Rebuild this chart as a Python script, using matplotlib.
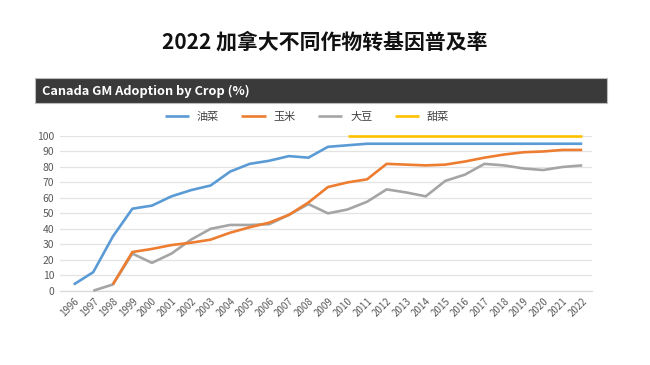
import matplotlib
matplotlib.use("Agg")
import matplotlib.pyplot as plt
from matplotlib.patches import Rectangle
import numpy as np

plt.rcParams['font.family'] = ['Noto Sans CJK SC', 'DejaVu Sans']

years = [str(y) for y in range(1996, 2023)]
canola = [4, 12, 35, 53, 55, 61, 65, 68, 77, 82, 84, 87, 86, 93, 94, 95,
          95, 95, 95, 95, 95, 95, 95, 95, 95, 95, 95]
corn = [None, None, 4, 25, 27, 29.5, 31, 33, 37.5, 41, 44, 49, 57, 67, 70, 72,
        82, 81.5, 81, 81.5, 83.5, 86, 88, 89.5, 90, 91, 91]
soy = [None, 0, 4, 24, 18, 24, 33, 40, 42.5, 42.5, 43, 49, 56, 50, 52.5, 57.5,
       65.5, 63.5, 61, 71, 75, 82, 81, 79, 78, 80, 81]
beet = [None] * 14 + [100] * 13
names = ['油菜', '玉米', '大豆', '甜菜']
colors = ['#5B9BD5', '#ED7D31', '#A5A5A5', '#FFC000']

def arr(v):
    return np.array([np.nan if x is None else x for x in v], dtype=float)

fig = plt.figure(figsize=(6.5, 3.65), dpi=100)
fig.patch.set_facecolor('white')

fig.text(0.5, 0.885, '2022 加拿大不同作物转基因普及率', ha='center', va='center',
         fontsize=15, fontweight='bold', color='#111111')

# header bar
fig.patches.append(Rectangle((35 / 650, 1 - 103 / 365), (607 - 35) / 650, 25 / 365,
                             transform=fig.transFigure, facecolor='#3A3A3A',
                             edgecolor='#BBBBBB', linewidth=0.8))
fig.text(42 / 650, 1 - 91 / 365, 'Canada GM Adoption by Crop (%)', ha='left', va='center',
         fontsize=9.2, fontweight='bold', color='white')

ax = fig.add_axes([60 / 650, (365 - 290.7) / 365, (592 - 60) / 650, (290.7 - 136) / 365])
x = np.arange(len(years))
series = [canola, corn, soy, beet]
order = [2, 1, 0, 3]
lines = {}
for i in order:
    ln, = ax.plot(x, arr(series[i]), color=colors[i], linewidth=1.9, label=names[i],
                  clip_on=False, solid_capstyle='butt', zorder=3)
    lines[i] = ln

ax.set_xlim(-0.7, len(years) - 0.5)
ax.set_ylim(0, 100)
ax.set_yticks(range(0, 101, 10))
ax.set_xticks(x)
ax.set_xticklabels(years, rotation=45, ha='right', rotation_mode='anchor')
ax.tick_params(axis='both', length=0, labelsize=7, colors='#595959')
ax.tick_params(axis='x', pad=4)
ax.tick_params(axis='y', pad=4)
for lab in ax.get_yticklabels():
    lab.set_fontsize(7.5)
ax.grid(axis='y', color='#E3E3E3', linewidth=0.9)
ax.set_axisbelow(True)
for s in ['top', 'right', 'left']:
    ax.spines[s].set_visible(False)
ax.spines['bottom'].set_color('#D9D9D9')
ax.spines['bottom'].set_linewidth(0.9)

leg = fig.legend([lines[i] for i in range(4)], names, loc='center',
                 bbox_to_anchor=(0.472, 1 - 117 / 365), ncol=4, frameon=False,
                 fontsize=8, handlelength=2.2, columnspacing=2.0, handletextpad=0.7)
for t in leg.get_texts():
    t.set_color('#404040')

fig.savefig('out.png', dpi=100, facecolor='white')
